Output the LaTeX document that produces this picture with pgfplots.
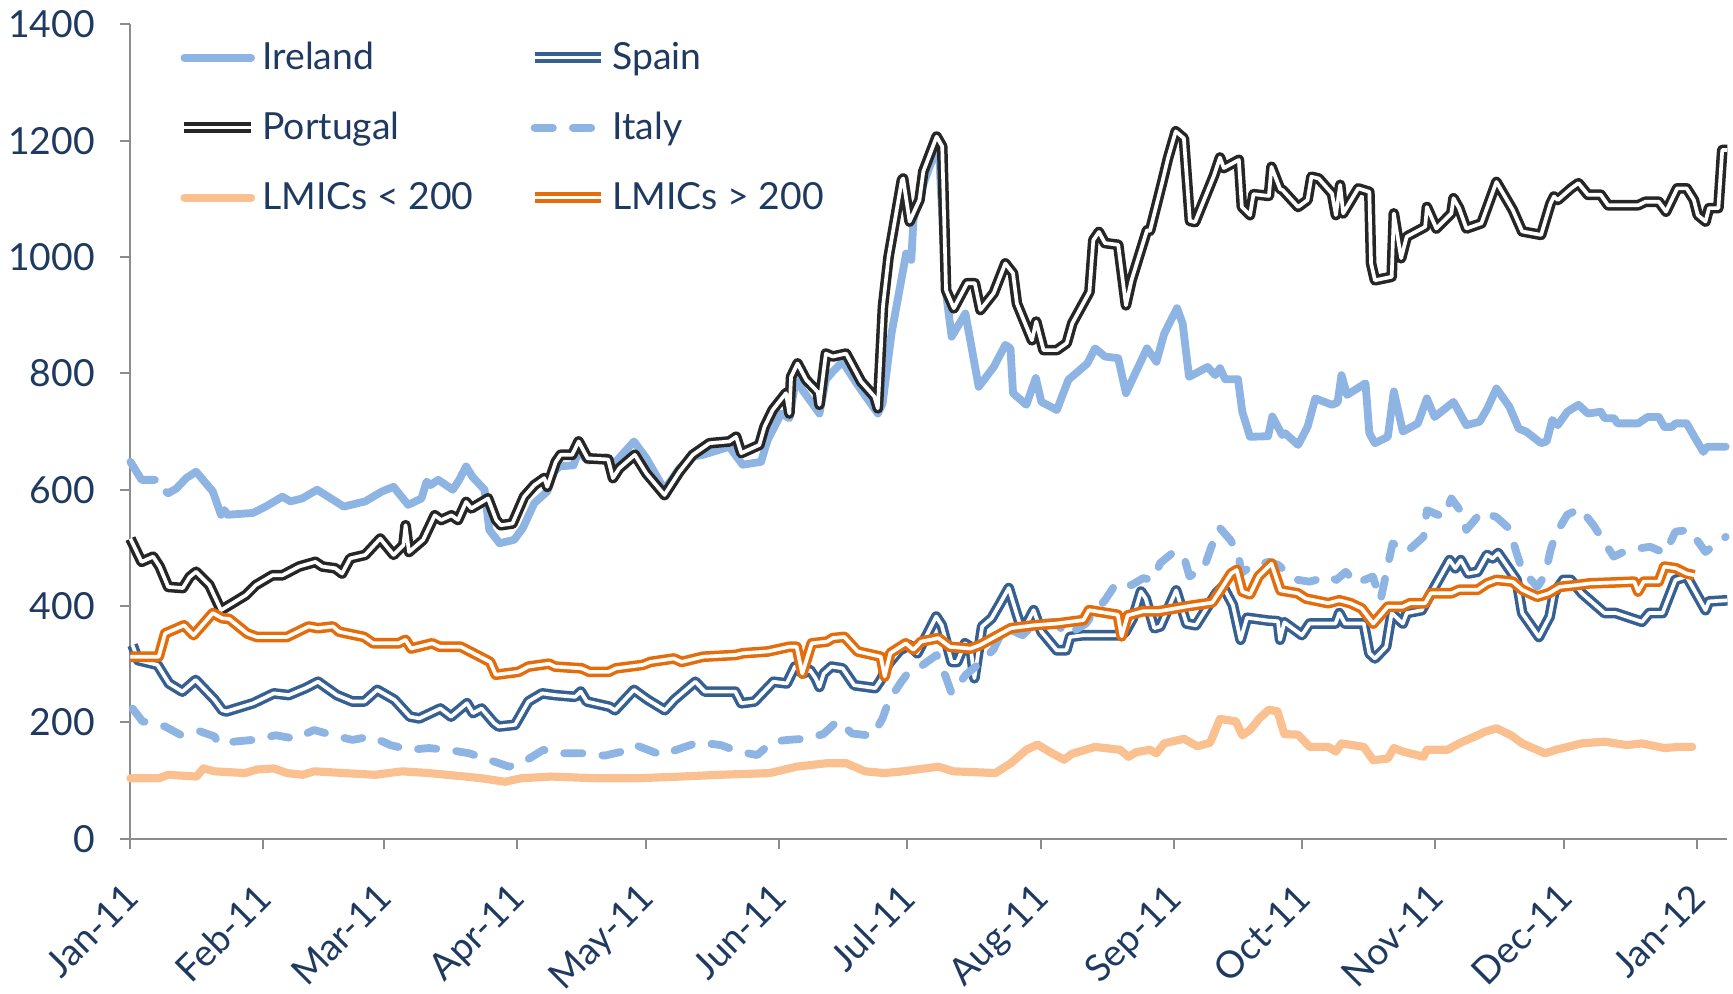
\documentclass[border=0pt]{standalone}
\usepackage{pgfplots}
\pgfplotsset{compat=1.18}
\usepackage{fontspec}
\setmainfont{Lato}
\definecolor{navy}{HTML}{1F3A60}
\definecolor{irl}{HTML}{8DB4E2}
\definecolor{spn}{HTML}{376092}
\definecolor{prt}{HTML}{262626}
\definecolor{lmicl}{HTML}{FAC090}
\definecolor{lmich}{HTML}{E46C0A}
\definecolor{axgray}{HTML}{8C8C8C}
\newcommand{\tickfont}{\fontsize{11.2}{13}\selectfont}
\begin{document}
\begin{tikzpicture}
\begin{axis}[
  name=ax,
  scale only axis, width=479.1pt, height=244.35pt,
  xmin=0, xmax=372, ymin=0, ymax=1400,
  clip=false,
  unbounded coords=jump,
  axis lines*=left,
  axis line style={axgray, line width=0.6pt},
  tick style={axgray, line width=0.6pt},
  tick align=outside,
  major tick length=3.2pt,
  xtick={0,31,59,90,120,151,181,212,243,273,304,334,365},
  xticklabels={Jan-11,Feb-11,Mar-11,Apr-11,May-11,Jun-11,Jul-11,Aug-11,Sep-11,Oct-11,Nov-11,Dec-11,Jan-12},
  ytick={0,200,400,600,800,1000,1200,1400},
  /pgf/number format/assume math mode=true,
  /pgf/number format/1000 sep={},
  scaled y ticks=false,
  yticklabel style={font=\tickfont, text=navy, inner sep=0pt, anchor=east, xshift=-7.3pt},
  xticklabel style={font=\tickfont, text=navy, inner sep=0pt, xshift=-2.6pt, yshift=-9.4pt, anchor=north east, rotate=45},
  legend columns=2,
  legend cell align=left,
  legend image code/.code={\draw[#1] (0pt,0pt) -- (20pt,0pt);},
  legend style={draw=none, fill=none, inner sep=0pt, outer sep=0pt,
    at={(axis description cs:0.0305,0.9738)}, anchor=north west,
    font=\tickfont, text=navy,
    nodes={inner sep=0pt, text height=7.2pt, text depth=0pt},
    row sep=13.8pt,
    /tikz/every odd column/.style={column sep=1.8pt},
    /tikz/column 2/.style={column sep=16.7pt}},
  every axis plot/.append style={line join=round},
]
% Ireland
\addplot[irl, line width=2.35pt, line cap=round] coordinates {
(0,648)(2.6,617)(5.7,617)(7,nan)(8.4,596)(8.8,594)(10.7,602)(13,620)(15.3,631)(19.2,597)(21.1,557)(21.9,565)(22.6,557)(28.5,560)(31.5,571)(35.4,588)(37.3,580)(40,585)(43.5,600)(47.8,580)(49.7,571)(54.7,580)(58.6,597)(61.3,605)(64.7,574)(67.8,585)(69,614)(69.9,608)(71.7,617)(75.1,600)(76.6,617)(78.2,640)(79.7,622)(82.5,600)(83.6,531)(86,508)(89.4,514)(91.4,534)(94.1,577)(97.1,597)(98.7,631)(99.9,640)(103.2,642)(104.4,666)(106.5,650)(111.1,656)(112.7,645)(117.3,683)(120.2,654)(124.4,600)(127.9,637)(131,657)(133.4,660)(139.5,674)(142.6,643)(146.9,648)(148.4,685)(151.6,731)(153.5,723)(155.1,794)(156.6,771)(160.5,731)(162,789)(163.6,803)(165.9,820)(169.4,780)(174.1,731)(175.2,748)(177.3,869)(180.7,1006)(181.9,995)(182.4,1064)(184.2,1115)(187.3,1178)(188.3,1190)(190,938)(191.3,863)(194.5,903)(197.6,777)(201.1,811)(203.8,849)(205,843)(205.6,766)(208.7,746)(210.9,792)(212.2,751)(215.8,737)(218.5,789)(222.9,817)(224.7,843)(227,829)(230.1,826)(231.9,766)(236.8,843)(239,820)(240.8,868)(243.8,912)(245.1,886)(246.6,794)(250.9,811)(252.7,797)(253.8,809)(255,790)(258,790)(259,734)(260.8,691)(265,692)(266,726)(268.3,694)(269,697)(272,677)(274.2,708)(276,757)(279.9,746)(281.2,750)(282.1,797)(283.4,763)(287.7,783)(288.6,697)(289.9,680)(292.9,691)(294.3,769)(296.4,700)(299.9,714)(302,757)(303.8,725)(308.2,751)(311.2,711)(314.3,717)(316.1,740)(318.2,774)(321.2,743)(323.4,705)(325.1,700)(328.6,680)(329.9,683)(331.2,720)(332.5,711)(334.7,734)(337.3,746)(339.5,731)(342.5,734)(343.4,723)(345.6,723)(346.4,714)(351.2,714)(353.4,725)(356,725)(357.3,708)(359.1,708)(359.9,714)(362.5,714)(364.7,686)(366.4,665)(367.3,674)(371.6,674)
};
\addlegendentry{Ireland}
% Spain
\addplot[spn, line width=1.05pt, double=white, double distance=1.1pt] coordinates {
(0.5,333)(1.8,307)(6.3,299)(9,267)(12.1,253)(15.2,273)(19.6,239)(21.4,221)(22.4,219)(28.6,233)(33.4,250)(36.9,247)(40.8,259)(43.7,270)(48.1,247)(51.7,236)(54.5,236)(57.5,256)(61.5,239)(65.1,210)(67.3,207)(72.2,224)(74.7,210)(78.4,233)(79.8,216)(81.8,224)(84.7,199)(85.8,193)(89.6,196)(92.7,236)(95.9,250)(98.9,247)(103.6,244)(104.9,253)(106.3,236)(111.6,227)(112.9,221)(117.3,256)(120.5,239)(124.5,221)(126.7,239)(131.6,270)(133.8,253)(140.9,253)(142.3,233)(145.4,236)(149.8,270)(152.9,267)(154.8,296)(156.6,284)(158.3,290)(159.6,276)(160.5,261)(161.5,284)(163.3,296)(165.9,293)(168.6,264)(173.5,259)(174.8,273)(176.6,301)(179.2,324)(181.5,333)(183.3,319)(185.5,350)(187.7,382)(189,367)(191.3,304)(192.6,304)(194.4,336)(195.7,330)(196.6,276)(198.4,365)(200.6,379)(202.4,402)(204.6,431)(206.4,388)(207.8,356)(210.4,393)(212.2,356)(215.8,324)(218,324)(218.9,347)(222,350)(230.4,350)(231.7,355)(233.5,379)(235.4,425)(236.5,413)(238.5,362)(239.9,365)(243.6,427)(246,370)(248.2,367)(252.9,422)(254.5,434)(256.8,402)(258.6,342)(260.1,380)(265.1,375)(267.3,374)(267.8,342)(268.8,372)(272.9,350)(274.7,370)(280.7,370)(281.6,388)(282.9,370)(287.3,370)(288.6,319)(289.9,310)(292.5,330)(293.8,388)(296.4,370)(297.3,388)(300.8,393)(303.4,428)(307.3,479)(308.6,465)(309.9,479)(311.6,456)(313.8,459)(316,488)(317.3,482)(318.6,491)(322.9,445)(324.2,388)(328.1,347)(330.6,382)(331.6,422)(333.8,445)(335.5,445)(338.1,422)(343.4,388)(346,388)(352.1,373)(353.8,388)(356.9,388)(359.9,445)(362.5,451)(366.9,393)(367.7,408)(372,410)
};
\addlegendentry{Spain}
% Portugal
\addplot[prt, line width=1.05pt, double=white, double distance=1.1pt] coordinates {
(0,516)(2.6,476)(5.3,485)(6.8,468)(8.8,433)(12.2,431)(13.8,450)(15.3,459)(18.4,436)(21.1,393)(23.8,405)(26.9,419)(29.2,436)(33.1,453)(35.4,453)(39.3,468)(43.1,476)(44.7,468)(47.7,465)(49.3,456)(51.2,482)(54.7,488)(58.2,516)(61.3,488)(63.6,505)(64.1,539)(64.9,493)(68.2,514)(70.9,556)(72.4,548)(74.8,556)(76.3,548)(78.2,579)(79.4,568)(83.3,585)(85.2,548)(86.3,539)(89,542)(91.7,588)(94.1,608)(96.4,620)(97.1,605)(99.1,648)(100.2,660)(102.9,660)(104.4,683)(106.5,654)(111.3,652)(112.4,620)(113.9,637)(117.5,660)(120.2,628)(124.4,591)(127.9,631)(131,660)(134.9,680)(139.5,683)(141.1,691)(142.3,663)(146.5,677)(147.7,708)(149.6,737)(152.7,766)(153.5,731)(153.9,794)(155.4,817)(157.4,789)(160.1,768)(160.5,746)(162,834)(163.6,829)(166.7,834)(170.2,786)(173.3,760)(174.1,740)(175.3,915)(176.6,1000)(179.7,1132)(180,1135)(181.5,1061)(183.8,1098)(184.7,1147)(187.8,1207)(189.1,1190)(190,943)(191.8,912)(194.9,955)(196.7,955)(198,909)(201.1,938)(203.8,989)(205.6,972)(206.5,920)(210,857)(211,889)(212.7,840)(215.8,840)(218.1,852)(219.4,886)(223.4,940)(224.3,1029)(225.6,1043)(227,1024)(230.1,1021)(231.9,917)(233.2,960)(236.8,1046)(237.5,1045)(240.3,1127)(241.7,1170)(243.5,1216)(245.4,1204)(246.8,1062)(248,1060)(252.4,1140)(253.8,1171)(254.7,1153)(258.2,1167)(258.9,1086)(260.8,1072)(261.6,1108)(265.2,1105)(265.8,1155)(267.8,1117)(268.4,1115)(272,1086)(274.2,1098)(275.1,1138)(276.8,1135)(279.9,1109)(280.8,1072)(281.8,1124)(282.5,1075)(286,1118)(288.6,1112)(289,989)(289.9,960)(293.8,966)(294.3,1075)(296,998)(297.3,1035)(301.6,1052)(302,1086)(304.2,1049)(307.7,1075)(308.2,1101)(309.5,1084)(311.2,1049)(314.7,1058)(318.2,1129)(322,1081)(324.2,1044)(328.6,1038)(330.8,1092)(331.6,1104)(332.5,1098)(335.6,1118)(337.3,1127)(339.5,1107)(342.5,1107)(344.2,1089)(351.2,1089)(352.9,1095)(356,1095)(357.7,1078)(360.3,1118)(362.5,1118)(364.2,1098)(365.1,1072)(366.9,1061)(367.7,1084)(369.9,1084)(370.8,1184)(372,1184)
};
\addlegendentry{Portugal}
% Italy
\addplot[irl, line width=2.35pt, line cap=round, dash pattern=on 5.5pt off 6pt] coordinates {
(0.5,224)(2.8,202)(8.1,193)(11.6,179)(16.1,185)(19.6,176)(20.5,164)(24.1,167)(28.5,170)(33.9,178)(38.3,172)(42.8,187)(47.2,178)(51.7,170)(56.1,176)(60.6,161)(65.1,153)(69.5,156)(74,153)(78.9,147)(83.8,135)(88.2,124)(91.8,133)(96.2,153)(98.9,147)(105.2,147)(110.5,143)(114,149)(117.7,161)(123.7,144)(128.4,156)(132.4,166)(137.6,161)(141.6,150)(146,144)(149.6,167)(153.2,170)(157.2,172)(161.4,180)(164.8,203)(168.1,181)(172.9,177)(175.2,207)(176.7,238)(179.3,267)(181.4,288)(184.4,298)(187.8,316)(189.9,279)(191.3,250)(194.6,282)(197.7,301)(201,325)(203.6,364)(207.8,350)(210.7,370)(215.5,373)(218.1,350)(222.6,370)(224.3,388)(227,410)(229.6,439)(233.2,436)(235.9,448)(238.1,445)(239.9,474)(243,493)(245.4,485)(246.7,451)(250,464)(251.8,502)(253.7,535)(256.3,513)(258.1,488)(258.8,457)(261,468)(265.1,476)(267.3,471)(269.2,459)(272,445)(274.7,442)(279.1,451)(280.9,445)(283.1,459)(285.5,439)(289.4,451)(291.2,410)(294,508)(297.3,493)(301.2,519)(302,565)(305.8,553)(307.7,585)(309.5,567)(311.2,531)(314.7,562)(318.2,553)(321.2,533)(322.9,491)(324.2,462)(327.7,433)(329.5,453)(330.8,496)(332.1,525)(334.7,557)(337.7,568)(340.8,539)(342.8,516)(345.5,485)(348.6,496)(354,502)(357.5,491)(359.9,528)(363.2,531)(366.9,493)(369.5,508)(371.6,519)
};
\addlegendentry{Italy}
% LMICs < 200
\addplot[lmicl, line width=2.45pt, line cap=round] coordinates {
(0,104)(6.6,104)(8.8,110)(15.4,107)(17,121)(19.6,116)(26.7,113)(29.4,119)(33.4,121)(36.5,113)(40.1,110)(42.8,116)(49.9,113)(57,110)(63.3,116)(69.5,113)(76.6,108)(81.9,104)(87.3,98)(90.9,104)(98,107)(108.7,104)(117.6,104)(128.3,107)(137.3,110)(148.9,113)(155.2,124)(162.3,130)(166.7,130)(171.1,116)(175.6,113)(180,116)(188.2,124)(191.7,116)(201.5,113)(205.1,130)(208.7,153)(211.3,162)(214,150)(217.5,136)(219.3,146)(224.7,158)(230.5,153)(232.5,141)(234.3,149)(237.5,153)(239,147)(240.8,164)(245.4,172)(248.5,159)(251.5,165)(253.8,206)(257.5,202)(259,178)(260.8,187)(263,207)(265.2,222)(267.2,219)(268.8,180)(272,179)(274.7,158)(279,158)(280.8,150)(282.1,164)(287.3,158)(289.5,135)(292.9,138)(294.3,156)(296.4,150)(301.2,141)(302,153)(306.8,153)(309.5,164)(313.8,178)(315.5,184)(318.2,190)(321.6,178)(324.2,164)(329.5,147)(332.1,153)(336.4,161)(338.1,164)(343.4,167)(348.6,161)(352.1,164)(357.3,156)(360.7,158)(363.8,158)
};
\addlegendentry{LMICs < 200}
% LMICs > 200
\addplot[lmich, line width=1.05pt, double=white, double distance=1.1pt] coordinates {
(0,313)(6.6,313)(8.1,353)(12.5,367)(14.7,350)(19.2,388)(21.4,379)(23,378)(27.2,353)(29.4,347)(36.5,347)(41.5,365)(43.7,362)(47.2,365)(48.6,356)(54.4,347)(56.6,336)(62.4,336)(64.1,342)(65.4,327)(70.3,336)(72.1,330)(77,330)(83.8,304)(85.1,282)(90.4,287)(92.7,296)(97.5,301)(98.9,296)(105.1,293)(106.9,287)(111.4,287)(113.1,293)(119.4,299)(121.1,304)(126.6,310)(128.4,304)(133.4,313)(140.9,316)(142.7,319)(148.5,322)(153.4,330)(155.2,330)(156.5,284)(158.7,336)(162.3,339)(163.6,345)(166.3,347)(169.4,322)(174.8,313)(175.7,279)(177,319)(180.6,336)(182.4,325)(184.2,339)(188.2,345)(190.9,330)(195.7,327)(197.9,333)(205.1,362)(210.4,367)(215.8,370)(222,376)(223.3,393)(230,385)(230.9,348)(232.3,384)(235.8,391)(239.4,391)(246.5,400)(252,406)(253.7,425)(256.4,456)(257.7,462)(259,425)(260.8,420)(262.8,451)(265.8,473)(267.9,427)(271.9,422)(273.8,413)(279,405)(281.6,410)(284.2,405)(286.8,396)(289.5,370)(292.9,399)(296.4,399)(298.1,405)(301.6,405)(302.9,422)(307.7,422)(309.5,428)(313.8,428)(316,439)(318.2,445)(322,442)(324.2,428)(327.7,416)(330.4,422)(332.9,433)(336.8,436)(339.9,439)(350.3,442)(351.2,425)(352.5,442)(356,442)(357.3,468)(360,465)(362.5,456)(364.3,453)
};
\addlegendentry{LMICs > 200}
\end{axis}
\pgfresetboundingbox
\path[use as bounding box] ([xshift=-39.12pt,yshift=-46.26pt]ax.south west) rectangle ([xshift=1.68pt,yshift=7.29pt]ax.north east);
\end{tikzpicture}
\end{document}
